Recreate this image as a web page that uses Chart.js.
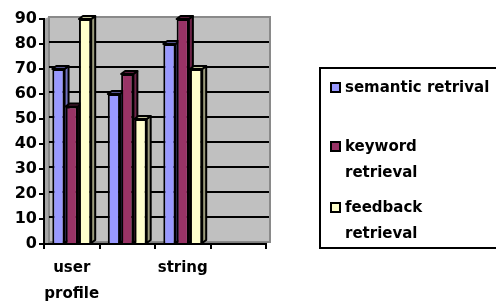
<!DOCTYPE html>
<html><head><meta charset="utf-8">
<script src="https://cdn.jsdelivr.net/npm/chart.js@4"></script>
<style>
html,body{margin:0;padding:0;background:#fff;}
#wrap{position:relative;width:496px;height:307px;overflow:hidden;}
canvas{position:absolute;left:0;top:0;}
#legend{position:absolute;left:319px;top:67px;width:200px;height:178px;border:2px solid #000;border-right:none;font:bold 15px "DejaVu Sans";color:#000;}
.item{position:absolute;left:24px;line-height:26px;white-space:nowrap;}
.mk{position:absolute;left:-15px;top:8px;width:11px;height:11px;box-sizing:border-box;border:2px solid #000;}
</style></head>
<body><div id="wrap"><canvas id="c" width="496" height="307"></canvas><div id="legend"></div></div>
<script>
const categories = [["user","profile"], "", "string", ""];
const seriesNames = [["semantic retrival"], ["keyword","retrieval"], ["feedback","retrieval"]];
const semantic = [70, 60, 80, null];
const keyword  = [55, 68, 90, null];
const feedback = [90, 50, 70, null];
const yMin = 0, yMax = 90, yStep = 10;

const fronts = ['#9999FF', '#993366', '#FFFFCC'];
const tops   = ['#55558f', '#5a1e3c', '#c4c49c'];
const sides  = ['#7070c0', '#6e2449', '#9c9c7c'];
const legendTops = [5, 64, 125];

const FONT = {family:'"DejaVu Sans"', weight:'bold', size:15, lineHeight:1.75};
const YFONT = {family:'"DejaVu Sans"', weight:'bold', size:16};
const DX = 4, DY = 3;

const wallPlugin = {
  id:'wall',
  beforeDraw(chart){
    const {ctx, chartArea:a, scales:{y}} = chart;
    const wx = 5, wy = 2;
    ctx.save();
    ctx.fillStyle = '#a6a6a6';
    ctx.beginPath();
    ctx.moveTo(a.left, a.top); ctx.lineTo(a.left+wx, a.top-wy);
    ctx.lineTo(a.left+wx, a.bottom-wy); ctx.lineTo(a.left, a.bottom); ctx.closePath(); ctx.fill();
    ctx.fillStyle = '#c0c0c0';
    ctx.fillRect(a.left+wx, a.top-wy, a.right+4-(a.left+wx), a.bottom-a.top);
    ctx.strokeStyle = '#8a8a8a'; ctx.lineWidth = 2;
    ctx.strokeRect(a.left+wx, a.top-wy, a.right+4-(a.left+wx), a.bottom-a.top);
    ctx.fillStyle = '#808080';
    ctx.beginPath();
    ctx.moveTo(a.left, a.bottom); ctx.lineTo(a.left+wx, a.bottom-wy);
    ctx.lineTo(a.right+4, a.bottom-wy); ctx.lineTo(a.right-1, a.bottom); ctx.closePath(); ctx.fill();
    ctx.strokeStyle = '#000'; ctx.lineWidth = 2;
    for (let v = yMin + yStep; v < yMax; v += yStep) {
      const py = Math.round(y.getPixelForValue(v)) - wy;
      ctx.beginPath(); ctx.moveTo(a.left+wx, py); ctx.lineTo(a.right+3, py); ctx.stroke();
    }
    ctx.restore();
  },
  beforeDatasetsDraw(chart){
    const ctx = chart.ctx;
    ctx.save();
    ctx.strokeStyle = '#000'; ctx.lineWidth = 2; ctx.lineJoin = 'round';
    chart.data.datasets.forEach((ds, i) => {
      const meta = chart.getDatasetMeta(i);
      meta.data.forEach((el, j) => {
        if (ds.data[j] == null) return;
        const {x, y, base, width} = el.getProps(['x','y','base','width'], true);
        const l = x - width/2, r = x + width/2;
        ctx.fillStyle = sides[i];
        ctx.beginPath();
        ctx.moveTo(r, y); ctx.lineTo(r+DX, y-DY); ctx.lineTo(r+DX, base-DY); ctx.lineTo(r, base); ctx.closePath();
        ctx.fill(); ctx.stroke();
        ctx.fillStyle = tops[i];
        ctx.beginPath();
        ctx.moveTo(l, y); ctx.lineTo(l+DX, y-DY); ctx.lineTo(r+DX, y-DY); ctx.lineTo(r, y); ctx.closePath();
        ctx.fill(); ctx.stroke();
      });
    });
    ctx.restore();
  }
};

const values = [semantic, keyword, feedback];
new Chart(document.getElementById('c'), {
  type:'bar',
  data:{
    labels: categories,
    datasets: values.map((d, i) => ({
      label: seriesNames[i].join(' '),
      data: d,
      backgroundColor: fronts[i],
      borderColor: '#000',
      borderWidth: 2,
      categoryPercentage: 0.72,
      barPercentage: 0.92
    }))
  },
  options:{
    responsive:false,
    animation:false,
    events:[],
    layout:{padding:{left:0, top:19, right:230, bottom:0}},
    plugins:{legend:{display:false}, tooltip:{enabled:false}},
    scales:{
      y:{
        min:yMin, max:yMax,
        ticks:{stepSize:yStep, autoSkip:false, font:YFONT, color:'#000', padding:2},
        grid:{drawOnChartArea:false, drawTicks:true, tickLength:5, color:'#000', lineWidth:2},
        border:{display:true, color:'#000', width:2},
        afterFit(s){ s.width = 44; }
      },
      x:{
        offset:true,
        ticks:{font:FONT, color:'#000', maxRotation:0, minRotation:0, autoSkip:false, padding:6},
        grid:{offset:true, drawOnChartArea:false, drawTicks:true, tickLength:5, color:'#000', lineWidth:2},
        border:{display:true, color:'#000', width:2},
        afterFit(s){ s.height = 63; }
      }
    }
  },
  plugins:[wallPlugin]
});

const lg = document.getElementById('legend');
seriesNames.forEach((lines, i) => {
  const it = document.createElement('div');
  it.className = 'item';
  it.style.top = legendTops[i] + 'px';
  it.innerHTML = lines.map(t => '<div>' + t + '</div>').join('');
  const mk = document.createElement('div');
  mk.className = 'mk';
  mk.style.background = fronts[i];
  it.appendChild(mk);
  lg.appendChild(it);
});
</script>
</body></html>
